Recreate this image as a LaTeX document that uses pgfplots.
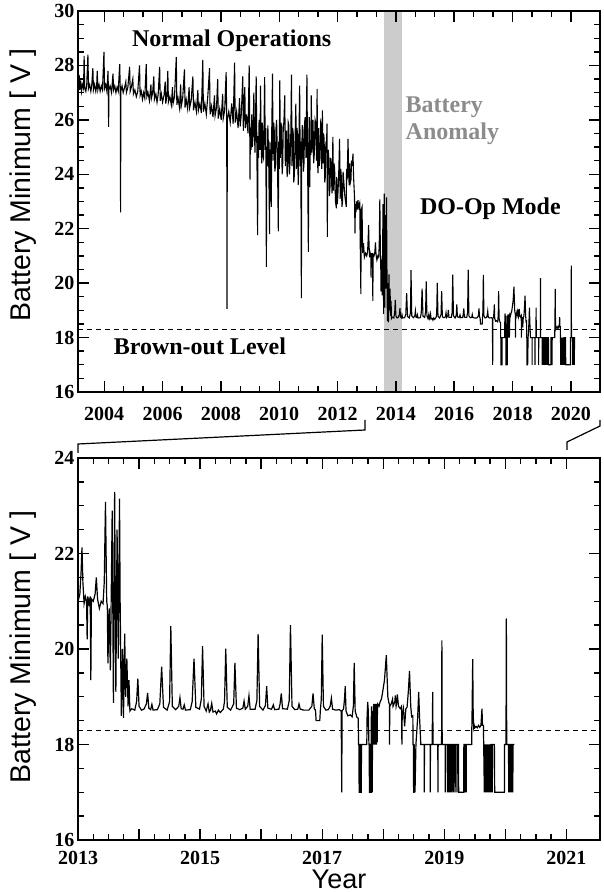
\documentclass[border=0pt]{standalone}
\usepackage{fontspec}
\setmainfont{Liberation Serif}
\setsansfont{Liberation Sans}
\usepackage{pgfplots}
\pgfplotsset{compat=1.18}
\usepackage{pgfplotstable}

\definecolor{bandgray}{RGB}{204,204,204}
\definecolor{anomgray}{RGB}{140,140,140}
\newcommand\tickfont{\fontsize{20}{20}\selectfont\bfseries}
\newcommand\annfont{\fontsize{24}{27}\selectfont\bfseries}
\newcommand\labfont{\fontsize{28.5}{30}\selectfont\sffamily}
\newcommand\yearfont{\fontsize{27}{28}\selectfont\sffamily}

% battery minimum voltage, year / volts
\pgfplotstableread{
x y
2003.10 27.85
2003.12 27.25
2003.14 27.65
2003.16 27.10
2003.19 27.45
2003.22 27.05
2003.25 27.30
2003.29 27.15
2003.31 28.35
2003.33 27.20
2003.37 27.05
2003.40 27.30
2003.44 28.40
2003.46 27.15
2003.50 27.30
2003.54 27.05
2003.57 27.25
2003.61 27.90
2003.63 27.10
2003.67 27.30
2003.71 27.05
2003.74 27.25
2003.76 27.80
2003.78 27.10
2003.82 27.30
2003.86 27.05
2003.90 27.25
2003.94 27.10
2003.99 28.50
2004.01 27.15
2004.05 27.30
2004.09 27.05
2004.13 27.80
2004.14 27.10
2004.15 25.74
2004.16 27.10
2004.20 27.25
2004.25 27.00
2004.30 27.70
2004.32 27.10
2004.36 27.25
2004.40 27.00
2004.44 27.20
2004.48 27.05
2004.53 28.05
2004.55 27.10
2004.56 22.60
2004.57 27.05
2004.61 27.25
2004.65 27.00
2004.70 27.20
2004.74 27.40
2004.76 27.00
2004.81 27.20
2004.87 27.95
2004.89 27.05
2004.93 27.20
2004.98 27.50
2005.00 26.95
2005.05 27.10
2005.10 26.85
2005.15 27.05
2005.21 28.00
2005.23 26.90
2005.27 27.05
2005.31 26.75
2005.35 27.00
2005.39 26.80
2005.44 28.05
2005.46 26.85
2005.50 27.00
2005.55 26.70
2005.60 27.30
2005.62 26.80
2005.66 27.00
2005.70 27.60
2005.72 26.75
2005.77 26.95
2005.81 26.65
2005.85 26.95
2005.90 27.95
2005.92 26.70
2005.96 26.95
2006.00 26.65
2006.05 26.90
2006.09 27.40
2006.11 26.60
2006.15 26.90
2006.18 27.80
2006.20 26.65
2006.25 26.85
2006.30 26.55
2006.34 27.20
2006.36 26.60
2006.41 26.85
2006.47 28.30
2006.49 26.55
2006.53 26.80
2006.58 26.45
2006.62 27.30
2006.64 26.50
2006.69 26.80
2006.75 27.85
2006.77 26.45
2006.81 26.75
2006.86 26.40
2006.91 27.20
2006.93 26.45
2006.98 26.70
2007.04 27.60
2007.06 26.35
2007.11 26.65
2007.16 26.30
2007.21 27.10
2007.23 26.35
2007.28 26.60
2007.33 26.25
2007.38 28.20
2007.40 26.30
2007.45 26.60
2007.50 26.20
2007.55 26.85
2007.61 27.90
2007.63 26.20
2007.68 26.50
2007.73 26.10
2007.78 26.90
2007.80 26.15
2007.85 26.45
2007.89 27.50
2007.91 26.05
2007.96 26.40
2008.01 26.00
2008.06 26.95
2008.08 26.05
2008.13 26.35
2008.18 27.75
2008.20 26.00
2008.21 19.05
2008.22 26.00
2008.27 26.30
2008.32 25.90
2008.37 26.60
2008.42 25.85
2008.47 28.10
2008.49 25.90
2008.54 26.30
2008.59 25.70
2008.64 26.80
2008.66 25.75
2008.70 26.20
2008.75 27.60
2008.77 25.60
2008.82 27.20
2008.84 25.70
2008.88 26.20
2008.93 25.50
2008.97 28.00
2008.99 25.60
2009.00 23.80
2009.01 25.70
2009.035 24.90
2009.06 26.20
2009.08 25.00
2009.10 25.40
2009.13 27.00
2009.15 25.50
2009.17 24.80
2009.19 26.10
2009.21 27.60
2009.23 25.30
2009.26 21.76
2009.27 25.40
2009.29 24.60
2009.31 26.00
2009.34 24.90
2009.36 27.26
2009.38 25.10
2009.40 24.40
2009.42 25.90
2009.44 24.70
2009.46 24.60
2009.48 25.80
2009.50 27.57
2009.52 24.90
2009.54 25.70
2009.56 20.60
2009.57 25.00
2009.59 24.30
2009.61 25.80
2009.64 24.50
2009.67 21.80
2009.68 25.20
2009.71 24.40
2009.73 22.80
2009.74 25.30
2009.77 27.70
2009.79 24.50
2009.81 25.90
2009.83 25.60
2009.85 24.10
2009.87 24.30
2009.89 25.70
2009.91 26.00
2009.94 24.50
2009.97 21.90
2009.98 25.20
2010.00 24.20
2010.02 27.45
2010.04 24.60
2010.06 25.90
2010.08 25.70
2010.10 24.00
2010.12 24.40
2010.14 25.80
2010.16 25.90
2010.19 26.90
2010.21 24.30
2010.23 25.20
2010.25 25.60
2010.27 23.90
2010.29 24.20
2010.31 25.90
2010.33 25.80
2010.35 24.00
2010.37 24.40
2010.40 25.60
2010.42 27.66
2010.44 24.30
2010.46 25.70
2010.48 25.50
2010.50 23.70
2010.52 24.00
2010.55 25.60
2010.57 26.60
2010.59 24.20
2010.61 25.70
2010.63 25.40
2010.65 23.60
2010.66 23.90
2010.68 25.50
2010.70 27.26
2010.72 24.30
2010.74 25.20
2010.76 19.45
2010.77 24.50
2010.79 25.80
2010.81 25.60
2010.83 24.10
2010.85 24.40
2010.87 25.90
2010.89 26.10
2010.92 24.60
2010.95 27.66
2010.97 24.80
2011.00 21.15
2011.01 24.90
2011.03 26.10
2011.05 23.53
2011.06 25.20
2011.08 24.70
2011.10 26.90
2011.12 24.80
2011.14 25.80
2011.16 26.00
2011.18 24.40
2011.20 24.70
2011.23 26.00
2011.25 25.90
2011.28 24.50
2011.30 27.14
2011.31 24.60
2011.33 24.04
2011.35 25.70
2011.37 24.30
2011.40 24.60
2011.42 25.90
2011.44 25.80
2011.46 24.20
2011.48 26.35
2011.50 24.40
2011.52 25.50
2011.54 25.30
2011.56 23.70
2011.58 23.90
2011.60 25.20
2011.62 25.00
2011.64 25.86
2011.65 21.70
2011.66 24.00
2011.68 24.90
2011.70 24.60
2011.72 23.20
2011.74 23.50
2011.76 24.60
2011.78 24.40
2011.81 23.30
2011.84 25.37
2011.86 23.40
2011.88 24.40
2011.90 24.20
2011.93 23.00
2011.96 22.75
2011.97 23.90
2011.99 22.90
2012.01 23.20
2012.04 24.00
2012.07 25.30
2012.09 23.10
2012.11 24.20
2012.13 23.90
2012.15 22.80
2012.17 23.00
2012.19 24.10
2012.21 23.80
2012.25 23.20
2012.30 22.80
2012.31 24.20
2012.33 23.80
2012.36 25.30
2012.38 24.00
2012.40 23.60
2012.42 24.40
2012.44 23.70
2012.46 23.80
2012.48 24.50
2012.50 24.30
2012.53 24.76
2012.55 23.90
2012.58 23.20
2012.60 21.83
2012.61 22.90
2012.63 22.60
2012.65 23.00
2012.68 22.70
2012.70 23.05
2012.72 22.80
2012.76 22.95
2012.80 19.60
2012.81 22.70
2012.84 22.80
2012.86 21.10
2012.89 21.47
2012.92 20.95
2012.96 21.10
2013.00 21.00
2013.03 21.15
2013.05 21.60
2013.065 22.13
2013.08 21.40
2013.10 20.95
2013.12 21.10
2013.14 21.00
2013.15 20.20
2013.16 21.10
2013.18 20.95
2013.20 21.10
2013.21 19.35
2013.22 21.05
2013.25 21.00
2013.28 21.15
2013.30 21.50
2013.32 21.05
2013.35 20.85
2013.38 21.00
2013.41 20.95
2013.43 21.40
2013.45 23.08
2013.47 21.00
2013.48 20.90
2013.49 19.70
2013.51 20.85
2013.53 19.55
2013.56 22.90
2013.58 18.87
2013.60 23.29
2013.62 19.10
2013.64 22.50
2013.66 19.80
2013.68 23.15
2013.69 21.00
2013.71 18.60
2013.73 20.00
2013.745 18.56
2013.765 20.32
2013.78 19.00
2013.80 19.80
2013.82 18.80
2013.835 19.35
2013.85 18.70
2013.88 18.75
2013.93 18.72
2013.96 18.90
2013.98 19.38
2014.00 18.80
2014.04 18.72
2014.08 18.74
2014.12 18.85
2014.14 19.08
2014.16 18.76
2014.19 18.73
2014.21 18.84
2014.23 18.72
2014.30 18.73
2014.34 18.85
2014.37 19.63
2014.40 18.78
2014.46 18.72
2014.50 18.90
2014.52 20.48
2014.545 18.80
2014.60 18.73
2014.65 18.80
2014.67 18.98
2014.69 18.75
2014.72 18.74
2014.74 18.83
2014.76 18.72
2014.84 18.73
2014.87 18.90
2014.90 19.80
2014.93 18.78
2014.99 18.74
2015.02 18.95
2015.04 20.06
2015.065 18.80
2015.10 18.70
2015.13 18.85
2015.15 18.68
2015.17 18.72
2015.19 18.86
2015.21 18.68
2015.25 18.70
2015.27 18.64
2015.30 18.72
2015.33 18.67
2015.38 18.74
2015.40 18.90
2015.42 20.01
2015.445 18.78
2015.50 18.72
2015.55 18.85
2015.57 19.71
2015.595 18.76
2015.65 18.73
2015.70 18.76
2015.72 18.91
2015.74 18.74
2015.78 18.80
2015.80 19.02
2015.82 18.74
2015.90 18.74
2015.93 18.92
2015.95 20.31
2015.975 18.80
2016.03 18.72
2016.07 18.82
2016.09 19.22
2016.11 18.76
2016.17 18.74
2016.20 18.83
2016.22 18.73
2016.29 18.74
2016.31 18.85
2016.33 19.07
2016.35 18.75
2016.43 18.74
2016.46 18.92
2016.48 20.50
2016.505 18.80
2016.55 18.73
2016.60 18.74
2016.62 18.85
2016.64 18.74
2016.70 18.72
2016.78 18.72
2016.83 18.80
2016.85 19.07
2016.87 18.75
2016.89 18.72
2016.90 18.50
2016.96 18.50
2016.97 18.72
2016.985 18.95
2017.00 20.30
2017.02 18.80
2017.06 18.72
2017.10 18.73
2017.13 18.80
2017.15 18.97
2017.17 18.74
2017.22 18.72
2017.28 18.73
2017.31 18.70
2017.32 17.00
2017.325 18.70
2017.35 18.75
2017.365 18.95
2017.377 19.22
2017.39 18.70
2017.42 18.60
2017.46 18.62
2017.49 18.58
2017.51 18.80
2017.524 19.71
2017.54 18.70
2017.568 18.57
2017.59 18.55
2017.595 18.00
2017.600 18.00
2017.605 17.00
2017.612 17.00
2017.615 18.00
2017.630 18.00
2017.633 17.00
2017.640 17.00
2017.643 18.00
2017.730 18.00
2017.735 18.57
2017.745 18.89
2017.755 18.70
2017.765 18.00
2017.770 18.00
2017.773 17.00
2017.778 17.00
2017.781 18.00
2017.787 18.00
2017.790 17.00
2017.795 18.00
2017.800 17.00
2017.803 17.00
2017.805 18.80
2017.810 17.00
2017.815 18.00
2017.820 17.00
2017.825 18.70
2017.830 18.00
2017.835 18.80
2017.840 18.00
2017.845 18.85
2017.850 18.00
2017.855 18.85
2017.860 18.00
2017.865 18.80
2017.870 18.00
2017.875 18.85
2017.880 18.00
2017.885 18.80
2017.890 18.00
2017.895 18.85
2017.900 18.05
2017.905 18.80
2017.91 18.85
2017.93 18.80
2017.95 18.90
2017.97 18.95
2017.99 19.10
2018.02 19.35
2018.04 19.70
2018.05 19.87
2018.06 19.50
2018.075 19.00
2018.090 18.88
2018.100 18.85
2018.103 18.00
2018.106 18.80
2018.13 18.85
2018.152 18.95
2018.16 18.80
2018.19 18.90
2018.197 19.03
2018.21 18.80
2018.224 18.90
2018.23 19.05
2018.25 18.80
2018.278 18.75
2018.300 18.80
2018.305 18.00
2018.310 18.60
2018.33 18.75
2018.35 18.38
2018.37 18.75
2018.39 18.78
2018.41 19.10
2018.43 19.54
2018.45 18.80
2018.465 18.58
2018.485 18.60
2018.486 18.00
2018.495 18.00
2018.497 17.00
2018.505 17.00
2018.507 18.00
2018.520 17.00
2018.535 18.00
2018.563 18.55
2018.580 19.10
2018.595 18.55
2018.615 18.00
2018.670 18.00
2018.672 17.00
2018.675 18.00
2018.768 18.00
2018.770 17.00
2018.773 18.00
2018.800 18.00
2018.810 19.10
2018.815 18.00
2018.893 18.00
2018.896 17.00
2018.899 18.00
2018.955 18.00
2018.960 20.18
2018.965 18.00
2019.015 18.00
2019.016 17.00
2019.020 18.00
2019.050 18.00
2019.052 17.00
2019.056 18.00
2019.068 18.00
2019.070 17.00
2019.074 18.00
2019.090 18.00
2019.092 17.00
2019.096 18.00
2019.108 18.00
2019.110 17.00
2019.114 18.00
2019.126 18.00
2019.128 17.00
2019.132 18.00
2019.150 18.00
2019.152 17.00
2019.156 18.00
2019.175 18.00
2019.177 17.00
2019.180 18.00
2019.206 18.00
2019.208 17.00
2019.211 18.00
2019.232 18.00
2019.235 17.00
2019.317 17.00
2019.320 18.00
2019.342 18.00
2019.344 17.00
2019.347 18.00
2019.356 18.00
2019.358 17.00
2019.361 18.00
2019.448 18.00
2019.450 18.30
2019.455 18.70
2019.465 19.79
2019.472 18.75
2019.48 18.35
2019.49 18.40
2019.50 18.35
2019.52 18.38
2019.54 18.35
2019.56 18.40
2019.58 18.36
2019.60 18.40
2019.617 18.75
2019.625 18.40
2019.640 18.40
2019.645 18.00
2019.655 17.00
2019.660 18.00
2019.670 17.00
2019.675 18.00
2019.685 17.00
2019.690 18.00
2019.700 17.00
2019.705 18.00
2019.720 17.00
2019.725 18.00
2019.740 17.00
2019.745 18.00
2019.760 17.00
2019.765 18.00
2019.780 18.00
2019.785 17.00
2019.790 18.00
2019.820 18.00
2019.825 17.00
2019.984 17.00
2019.987 18.00
2020.010 18.00
2020.016 20.64
2020.022 18.00
2020.052 18.00
2020.054 17.00
2020.057 18.00
2020.075 18.00
2020.078 17.00
2020.081 18.00
2020.098 18.00
2020.100 17.00
2020.103 18.00
2020.120 18.00
2020.122 17.00
2020.125 18.00
2020.147 18.00
}\batt

\pgfplotsset{
  battax/.style={
    scale only axis,
    width=522pt,
    axis line style={line width=2pt},
    tick style={line width=1.4pt, black},
    major tick length=11pt,
    minor tick length=6pt,
    tick align=inside,
    ymin=16,
    ticklabel style={font=\tickfont},
    ylabel={Battery Minimum [ V ]},
    clip=true,
    axis on top,
  }
}

\begin{document}
\begin{tikzpicture}
\useasboundingbox (0,0) rectangle (604pt,892pt);

% full mission
\begin{axis}[battax,
  at={(78pt,500pt)}, anchor=south west, height=381pt,
  xmin=2003.1, xmax=2021.0, ymax=30,
  xtick={2004,2006,2008,2010,2012,2014,2016,2018,2020},
  xticklabels={2004,2006,2008,2010,2012,2014,2016,2018,2020},
  minor x tick num=2,
  ytick={16,18,20,22,24,26,28,30},
  yticklabels={16,18,20,22,24,26,28,30},
  minor y tick num=3,
  xticklabel style={yshift=-12pt},
  ylabel style={font=\labfont, at={(axis description cs:-0.105,0.543)}, anchor=center},
]
\fill[bandgray] (axis cs:2013.6,16) rectangle (axis cs:2014.2,30);
\addplot[black, line width=1.1pt] table[x=x, y=y] {\batt};
\addplot[black, line width=1.1pt, dash pattern=on 5pt off 4pt] coordinates {(2003.1,18.3) (2021.0,18.3)};
\node[font=\annfont] at (axis cs:2008.37,28.92) {Normal Operations};
\node[font=\annfont, text=anomgray, anchor=north west, align=left, inner sep=0pt] at (axis cs:2014.33,26.85) {Battery\\Anomaly};
\node[font=\annfont] at (axis cs:2017.24,22.75) {DO-Op Mode};
\node[font=\annfont] at (axis cs:2007.28,17.69) {Brown-out Level};
\end{axis}

% zoom on 2013 onwards
\begin{axis}[battax,
  at={(78pt,52pt)}, anchor=south west, height=382pt,
  xmin=2013, xmax=2021.55, ymax=24,
  xtick={2013,2014,2015,2016,2017,2018,2019,2020,2021},
  xticklabels={2013,,2015,,2017,,2019,,2021},
  minor x tick num=3,
  ytick={16,18,20,22,24},
  yticklabels={16,18,20,22,24},
  minor y tick num=3,
  xticklabel style={yshift=-8pt},
  ylabel style={font=\labfont, at={(axis description cs:-0.105,0.505)}, anchor=center},
  xlabel={Year},
  xlabel style={font=\yearfont, at={(axis description cs:0.5,0)}, anchor=base, yshift=-48pt, inner sep=0pt},
]
\addplot[black, line width=1.2pt] table[x=x, y=y] {\batt};
\addplot[black, line width=1.1pt, dash pattern=on 5pt off 4pt] coordinates {(2013,18.3) (2021.55,18.3)};
\end{axis}

% connectors between panels
\draw[line width=1.2pt] (78pt,439pt) -- (78pt,448pt) -- (365pt,462pt) -- (365pt,472pt);
\draw[line width=1.2pt] (567pt,442pt) -- (567pt,450pt) -- (600pt,466pt) -- (600pt,472pt);
\end{tikzpicture}
\end{document}
